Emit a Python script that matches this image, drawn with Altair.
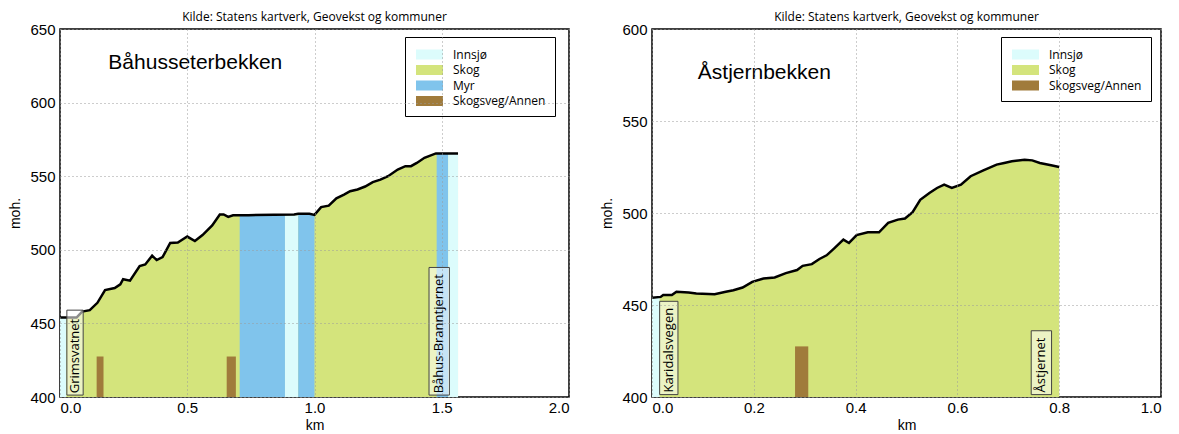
import altair as alt
import pandas as pd

# ---------------- data ----------------
TITLE = "Kilde: Statens kartverk, Geovekst og kommuner"

# Left: Båhusseterbekken
left_km = [0.0, 0.065, 0.087, 0.117, 0.147, 0.177, 0.215, 0.237, 0.248, 0.275, 0.313, 0.335,
           0.362, 0.38, 0.403, 0.433, 0.463, 0.5, 0.53, 0.56, 0.598, 0.628, 0.643, 0.661, 0.68,
           0.74, 0.92, 0.936, 0.98, 1.0, 1.026, 1.056, 1.086, 1.116, 1.14, 1.169, 1.199, 1.229,
           1.259, 1.289, 1.327, 1.357, 1.379, 1.402, 1.432, 1.477, 1.564]
left_moh = [454, 454, 458, 459, 464, 472.6, 474, 476.5, 480, 479, 489, 490,
            496, 493, 495, 504.7, 505, 509, 506, 510, 516.5, 524, 524, 522.4, 523.5,
            523.5, 524, 524.5, 524.5, 523.7, 529, 530, 535, 537.5, 539.8, 541, 543, 546,
            547.7, 550, 554.5, 556.8, 556.8, 559, 562.5, 565.5, 565.5]
left_band_type = ["Innsjø", "Myr", "Innsjø", "Myr", "Myr", "Innsjø"]
left_band_start = [0.0, 0.706, 0.884, 0.936, 1.48, 1.525]
left_band_end = [0.025, 0.884, 0.936, 1.0, 1.525, 1.564]
left_band_top = [454, 523.5, 523.5, 523.7, 565.5, 565.5]
left_road_start = [0.144, 0.655]
left_road_end = [0.171, 0.691]
left_road_top = [427.5, 427.5]
left_label_text = ["Grimsvatnet", "Båhus-Branntjernet"]
left_label_x = [0.059, 1.49]
left_label_x0 = [0.027, 1.45]
left_label_x1 = [0.091, 1.53]
left_label_top = [459, 488]
left_name = "Båhusseterbekken"
left_name_km = 0.19
left_name_moh = 627
left_types = ["Innsjø", "Skog", "Myr", "Skogsveg/Annen"]

# Right: Åstjernbekken
right_km = [0.0, 0.017, 0.022, 0.039, 0.048, 0.072, 0.087, 0.123, 0.145, 0.16, 0.178, 0.197,
            0.219, 0.241, 0.263, 0.285, 0.296, 0.314, 0.329, 0.343, 0.358, 0.376, 0.387,
            0.402, 0.424, 0.446, 0.464, 0.483, 0.497, 0.512, 0.527, 0.545, 0.56, 0.574,
            0.589, 0.607, 0.626, 0.651, 0.677, 0.692, 0.707, 0.732, 0.747, 0.762, 0.784, 0.8]
right_moh = [454, 454.4, 455.4, 455.4, 457.2, 456.8, 456.3, 455.9, 457.2, 458, 459.5, 462.6,
             464.4, 465, 467.3, 469, 471.3, 472.2, 475, 477, 480.8, 485.5, 483.7,
             488, 489.5, 489.5, 494.6, 496.4, 497, 500.4, 507.2, 510.9, 513.6, 515.4,
             513.6, 515.4, 520, 523.2, 526.3, 527.2, 528.1, 529, 528.6, 527.2, 525.9, 525]
right_band_type = ["Innsjø"]
right_band_start = [0.0]
right_band_end = [0.015]
right_band_top = [454]
right_road_start = [0.281]
right_road_end = [0.307]
right_road_top = [427.5]
right_label_text = ["Karidalsvegen", "Åstjernet"]
right_label_x = [0.033, 0.765]
right_label_x0 = [0.015, 0.745]
right_label_x1 = [0.051, 0.785]
right_label_top = [452, 436]
right_name = "Åstjernbekken"
right_name_km = 0.09
right_name_moh = 576
right_types = ["Innsjø", "Skog", "Skogsveg/Annen"]

COLORS = {"Innsjø": "#DCFCFC", "Skog": "#D4E47C", "Myr": "#80C4EC", "Skogsveg/Annen": "#A07B3B"}

TICK_FONT = "Liberation Sans"
TXT_FONT = "Open Sans"
LEG_SYMBOL = "M-1.62,-0.6H1.62V0.6H-1.62Z"


def panel(km, moh, btype, bstart, bend, btop, rstart, rend, rtop,
          ltext, lx, lx0, lx1, ltop, name, name_km, name_moh, types,
          xmax, xstep, ymax, legx, legy):
    prof = pd.DataFrame({"km": km, "moh": moh, "type": "Skog"})
    bands = pd.DataFrame({"x0": bstart + rstart, "x1": bend + rend, "top": btop + rtop,
                          "type": btype + ["Skogsveg/Annen"] * len(rstart)})
    labels = pd.DataFrame({"text": ltext, "x": lx, "x0": lx0, "x1": lx1, "top": ltop, "base": 402.5})
    names = pd.DataFrame({"text": [name], "x": [name_km], "y": [name_moh]})

    xs = alt.Scale(domain=[0, xmax], nice=False, zero=False)
    ys = alt.Scale(domain=[400, ymax], nice=False, zero=False)
    nx = int(round(xmax / xstep))
    xaxis = alt.Axis(values=[round(i * xstep, 2) for i in range(nx + 1)], format=".1f", title="km",
                     grid=True, gridDash=[1, 3], gridColor="#9a9a9a", ticks=False, domain=False,
                     labelPadding=3, titlePadding=3, zindex=1)
    yaxis = alt.Axis(values=list(range(400, ymax + 1, 50)), title="moh.", grid=True,
                     gridDash=[1, 3], gridColor="#9a9a9a", ticks=False, domain=False,
                     labelPadding=5, titlePadding=7, zindex=1)
    cscale = alt.Scale(domain=types, range=[COLORS[t] for t in types])
    legend = alt.Legend(orient="none", legendX=legx, legendY=legy, title=None,
                        strokeColor="black", fillColor="white", padding=9, symbolOffset=7,
                        symbolType=LEG_SYMBOL, symbolSize=278, symbolStrokeWidth=0,
                        symbolOpacity=1, labelOffset=15, rowPadding=0.5,
                        labelFont=TXT_FONT, labelFontSize=12, labelColor="black")

    X = lambda f: alt.X(f, type="quantitative", scale=xs, axis=xaxis)
    Y = lambda f: alt.Y(f, type="quantitative", scale=ys, axis=yaxis)
    color = alt.Color("type:N", scale=cscale, legend=legend, sort=types)

    area = alt.Chart(prof).mark_area(opacity=1).encode(x=X("km"), y=Y("moh"), y2=alt.datum(400), color=color)
    rect = alt.Chart(bands).mark_rect(opacity=1).encode(x=X("x0"), x2="x1", y=Y("top"), y2=alt.datum(400), color=color)
    line = alt.Chart(prof).mark_line(color="black", strokeWidth=2.5).encode(x=X("km"), y=Y("moh"))
    box = alt.Chart(labels).mark_rect(fill="white", fillOpacity=0.55, stroke="#444", strokeWidth=1).encode(
        x=X("x0"), x2="x1", y=Y("top"), y2=alt.datum(401.3))
    txt = alt.Chart(labels).mark_text(angle=270, align="left", baseline="middle", font=TXT_FONT,
                                      fontSize=13, color="black").encode(x=X("x"), y=Y("base"), text="text")
    nm = alt.Chart(names).mark_text(align="left", baseline="middle", font=TICK_FONT, fontSize=21,
                                    color="black").encode(x=X("x"), y=Y("y"), text="text")
    return alt.layer(area, rect, line, box, txt, nm).properties(
        width=509, height=368,
        title=alt.TitleParams(TITLE, font=TXT_FONT, fontSize=12, fontWeight="normal", color="black", offset=-2))


left = panel(left_km, left_moh, left_band_type, left_band_start, left_band_end, left_band_top,
             left_road_start, left_road_end, left_road_top,
             left_label_text, left_label_x, left_label_x0, left_label_x1, left_label_top,
             left_name, left_name_km, left_name_moh, left_types, 2.0, 0.5, 650, 345, 8)
right = panel(right_km, right_moh, right_band_type, right_band_start, right_band_end, right_band_top,
              right_road_start, right_road_end, right_road_top,
              right_label_text, right_label_x, right_label_x0, right_label_x1, right_label_top,
              right_name, right_name_km, right_name_moh, right_types, 1.0, 0.2, 600, 349, 8)

chart = alt.hconcat(left, right, spacing=30).resolve_scale(color="independent").resolve_legend(
    color="independent").properties(
    padding={"left": 0, "top": 2, "right": 5, "bottom": 0}
).configure_view(stroke="black", strokeWidth=1.5).configure_axis(
    labelFont=TICK_FONT, labelFontSize=15, labelColor="black",
    titleFont=TICK_FONT, titleFontSize=14, titleFontWeight="normal", titleColor="black"
).configure_title(anchor="middle")

chart.save("out.html", embed_options={"renderer": "svg", "actions": False})
